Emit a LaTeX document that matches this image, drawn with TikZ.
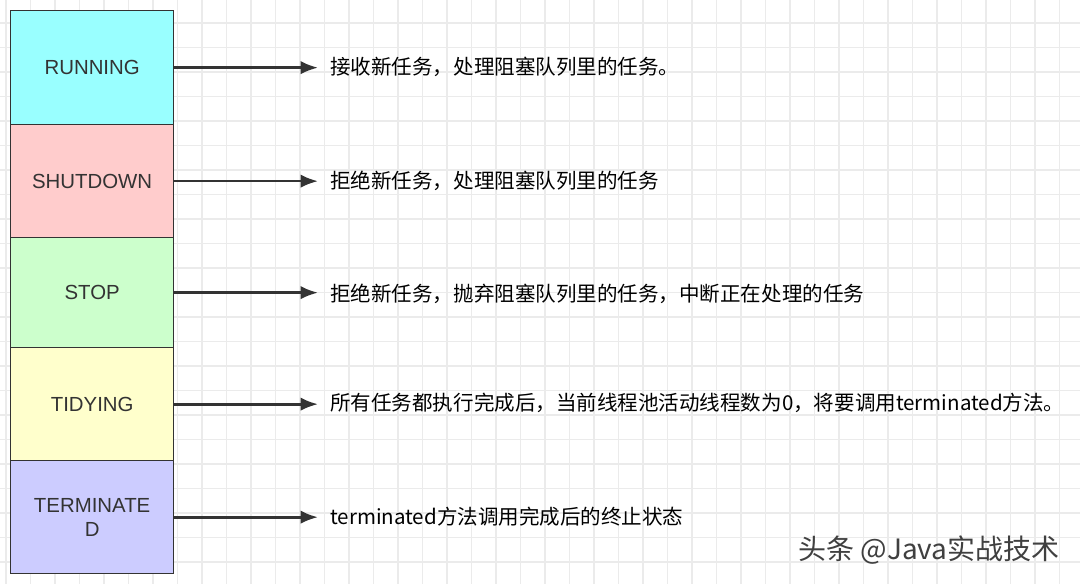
\documentclass[tikz,border=0pt]{standalone}
\usepackage{fontspec}
\setmainfont{Liberation Sans}
\newfontfamily\cjk{Noto Sans CJK SC}
\usetikzlibrary{arrows.meta}
\definecolor{cA}{HTML}{99FFFF}
\definecolor{cB}{HTML}{FFCCCC}
\definecolor{cC}{HTML}{CCFFCC}
\definecolor{cD}{HTML}{FFFFCC}
\definecolor{cE}{HTML}{CCCCFF}
\definecolor{gridc}{HTML}{EBEBEB}
\definecolor{txt}{HTML}{333333}
\begin{document}
\begin{tikzpicture}[x=0.75pt,y=-0.75pt,
  st/.style={draw=txt,line width=1pt,minimum width=163*0.75pt,text width=140*0.75pt,align=center,anchor=north west,inner sep=0pt,font=\fontsize{15.3}{18}\selectfont,text=txt},
  desc/.style={anchor=west,font=\cjk\fontsize{15.4}{18}\selectfont,text=black,inner sep=0pt},
  arr/.style={draw=txt,line width=2pt,-{Latex[length=13pt,width=10pt]}}]
\useasboundingbox (0,0) rectangle (1080,584);
\fill[white] (0,0) rectangle (1080,584);
\foreach \i in {0,...,44} \draw[gridc,line width=0.8pt] (6+\i*24.5,0) -- (6+\i*24.5,584);
\foreach \j in {0,...,24} \draw[gridc,line width=0.8pt] (0,-1.5+\j*24.5) -- (1080,-1.5+\j*24.5);
\node[st,fill=cA,minimum height=114*0.75pt] (r) at (10,10) {RUNNING};
\node[st,fill=cB,minimum height=113*0.75pt] (s) at (10,124) {SHUTDOWN};
\node[st,fill=cC,minimum height=110*0.75pt] (p) at (10,237) {STOP};
\node[st,fill=cD,minimum height=113*0.75pt] (t) at (10,347) {TIDYING};
\node[st,fill=cE,minimum height=113*0.75pt] (e) at (10,460) {TERMINATE\\D};
\node[desc] (dr) at (330,67) {接收新任务，处理阻塞队列里的任务。};
\node[desc] (ds) at (330,181) {拒绝新任务，处理阻塞队列里的任务};
\node[desc] (dp) at (330,294) {拒绝新任务，抛弃阻塞队列里的任务，中断正在处理的任务};
\node[desc] (dt) at (330,403) {所有任务都执行完成后，当前线程池活动线程数为0，将要调用terminated方法。};
\node[desc] (de) at (330,517) {terminated方法调用完成后的终止状态};
\foreach \a/\b in {r/dr,s/ds,p/dp,t/dt,e/de} \draw[arr] (\a.east) -- ([xshift=-9pt]\a.east -| \b.west);
\node[anchor=west,font=\cjk\fontsize{21}{24}\selectfont,text=black!75,inner sep=0pt] (wm) at (798,550) {头条 @Java实战技术};
\end{tikzpicture}
\end{document}
